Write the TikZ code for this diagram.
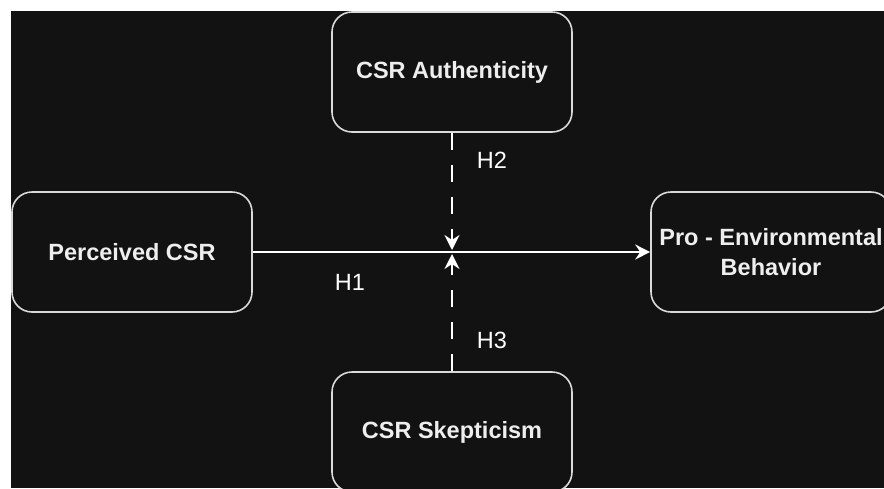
\documentclass[tikz,border=0pt]{standalone}
\usepackage{fontspec}
\setmainfont{Liberation Sans}
\usetikzlibrary{arrows.meta}

\definecolor{bgdark}{HTML}{121212}
\definecolor{linegray}{HTML}{DADADA}
\definecolor{textgray}{HTML}{EEEEEE}

\begin{document}
\begin{tikzpicture}[x=1pt,y=-1pt,
    varbox/.style={draw=linegray,fill=bgdark,line width=1.6pt,rounded corners=20pt,
      minimum width=240pt,minimum height=120pt,inner sep=2pt,align=center,
      text=textgray,font=\fontsize{23.5}{30}\selectfont\bfseries},
    hyp/.style={text=white,font=\fontsize{23.5}{30}\selectfont},
    link/.style={draw=white,line width=1.6pt,-{Stealth[length=15pt,width=15pt,inset=5pt]}}]
    \useasboundingbox (0,0) rectangle (884,488);
    \fill[white] (0,0) rectangle (884,488);
    \fill[bgdark] (11,11) rectangle (884,488);% dark canvas

    \node[varbox] (auth) at (452,72) {CSR Authenticity};
    \node[varbox] (perc) at (132,252) {Perceived CSR};
    \node[varbox] (proenv) at (771,252) {Pro - Environmental\\Behavior};
    \node[varbox] (skep) at (452,432) {CSR Skepticism};

    \coordinate (meet) at (452,252);

    % Paths
    \draw[link] (perc) -- (proenv);
    \draw[link,dash pattern=on 17pt off 15pt] (auth) -- ([yshift=2pt]meet);
    \draw[link,dash pattern=on 17pt off 15pt] (skep) -- ([yshift=-2pt]meet);

    \node[hyp] (h1) at (350,282) {H1};
    \node[hyp] (h2) at (492,160) {H2};
    \node[hyp] (h3) at (492,340) {H3};

\end{tikzpicture}
\end{document}
